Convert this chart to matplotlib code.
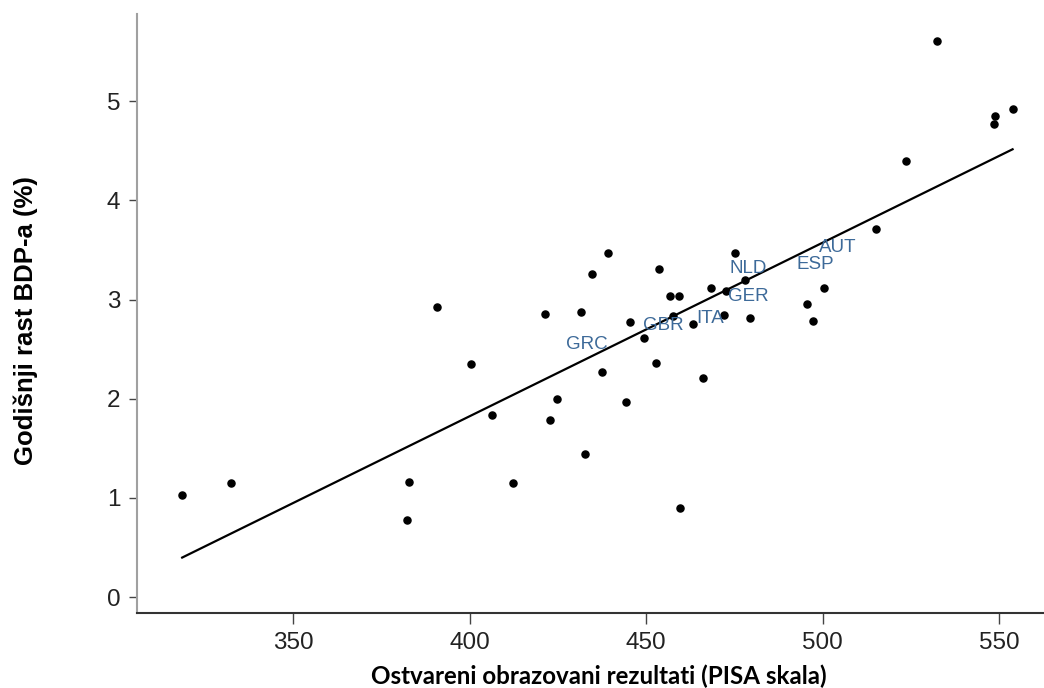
import numpy as np
import matplotlib.pyplot as plt

# PISA rezultat vs. godisnji rast BDP-a
pisa = [318.6, 332.3, 382.3, 382.9, 390.9, 400.5, 406.3, 412.3, 421.3, 422.7,
        424.7, 431.5, 432.7, 434.7, 437.4, 439.1, 444.2, 445.3, 449.4, 452.7,
        453.6, 456.8, 457.7, 459.3, 459.5, 463.4, 466.1, 468.3, 472.1, 472.6,
        475.1, 478.0, 479.3, 495.7, 497.2, 500.3, 515.2, 523.7, 532.5, 548.5,
        548.7, 553.8]
rast = [1.03, 1.15, 0.78, 1.16, 2.92, 2.35, 1.84, 1.15, 2.85, 1.79,
        2.00, 2.87, 1.44, 3.26, 2.27, 3.47, 1.97, 2.77, 2.61, 2.36,
        3.31, 3.04, 2.83, 3.04, 0.90, 2.75, 2.21, 3.12, 2.84, 3.09,
        3.47, 3.20, 2.81, 2.95, 2.78, 3.12, 3.71, 4.40, 5.60, 4.77,
        4.85, 4.92]

# oznake zemalja
zemlje = ['GRC', 'GBR', 'ITA', 'GER', 'NLD', 'ESP', 'AUT']
zemlje_x = [427.3, 449.2, 464.2, 473.2, 473.5, 492.5, 499.0]
zemlje_y = [2.55, 2.74, 2.81, 3.03, 3.31, 3.35, 3.52]

x = np.array(pisa)
y = np.array(rast)
k, b = np.polyfit(x, y, 1)
lx = np.array([x.min(), x.max()])

fig = plt.figure(figsize=(10.44, 6.88), dpi=100)
ax = fig.add_axes([0.1312, 0.1097, 0.8688, 0.870])

ax.plot(lx, k * lx + b, color='black', lw=1.6)
ax.scatter(x, y, s=26, color='black', zorder=3)

for z, zx, zy in zip(zemlje, zemlje_x, zemlje_y):
    ax.text(zx, zy, z, color='#3d6a99', fontsize=13.5, family='Liberation Sans',
            ha='left', va='center')

ax.set_xlim(305.8, 562.7)
ax.set_ylim(-0.154, 5.877)
ax.set_xticks([350, 400, 450, 500, 550])
ax.set_yticks([0, 1, 2, 3, 4, 5])

for s in ['top', 'right']:
    ax.spines[s].set_visible(False)
ax.spines['left'].set_color('#a0a0a0')
ax.spines['left'].set_linewidth(1.5)
ax.spines['bottom'].set_color('#333333')
ax.spines['bottom'].set_linewidth(1.5)

ax.tick_params(axis='x', length=8, width=1, color='#444444', pad=6)
ax.tick_params(axis='y', length=6, width=1, color='#444444', pad=6)
for lab in ax.get_xticklabels() + ax.get_yticklabels():
    lab.set_family('Liberation Sans')
    lab.set_fontsize(17.5)
    lab.set_color('#222222')

ax.set_xlabel('Ostvareni obrazovani rezultati (PISA skala)', family='Lato',
              fontweight='bold', fontsize=17.4)
ax.set_ylabel('Godišnji rast BDP-a (%)', family='Liberation Sans',
              fontweight='bold', fontsize=18.5)
ax.xaxis.set_label_coords(0.509, -0.087)
ax.yaxis.set_label_coords(-0.109, 0.487)

fig.savefig('out.png', dpi=100)
